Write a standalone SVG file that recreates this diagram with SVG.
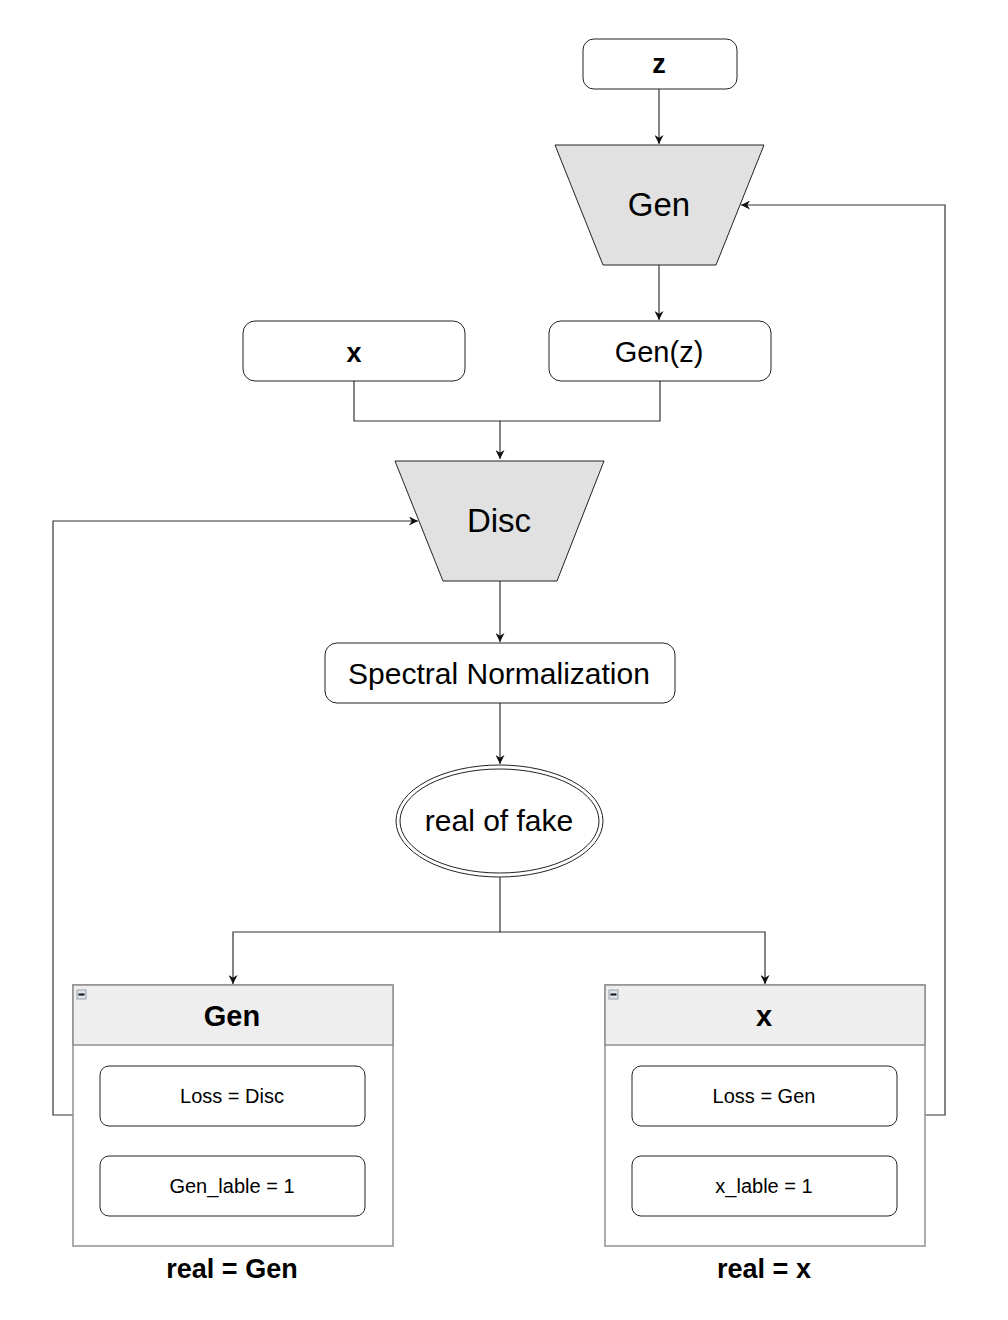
<svg xmlns="http://www.w3.org/2000/svg" width="1008" height="1320" viewBox="0 0 1008 1320">
<style>
text{font-family:"Liberation Sans",Arial,Helvetica,sans-serif;fill:#000;text-anchor:middle}
.box{fill:#fff;stroke:#222;stroke-width:1}
.trap{fill:#e1e1e1;stroke:#222;stroke-width:1}
.lane{fill:#fff;stroke:#909090;stroke-width:1.5}
.hdr{fill:#eeeeee;stroke:#909090;stroke-width:1.5}
.edge{fill:none;stroke:#333;stroke-width:1.2}
.b{font-weight:bold}
</style>
<defs>
<marker id="arr" viewBox="0 0 10 10" refX="10" refY="5" markerWidth="9" markerHeight="9" orient="auto" markerUnits="userSpaceOnUse">
<path d="M0,0 L10,5 L0,10 L3,5 z" fill="#111"/>
</marker>
</defs>
<rect width="1008" height="1320" fill="#fff"/>
<g id="connectors">
<path class="edge" d="M659,89 V144" marker-end="url(#arr)"/>
<path class="edge" d="M659,265 V320" marker-end="url(#arr)"/>
<path class="edge" d="M354,381 V421 H500 V459" marker-end="url(#arr)"/>
<path class="edge" d="M660,381 V421 H500"/>
<path class="edge" d="M500,581 V642" marker-end="url(#arr)"/>
<path class="edge" d="M500,703 V764" marker-end="url(#arr)"/>
<path class="edge" d="M500,877 V932 H233 V984" marker-end="url(#arr)"/>
<path class="edge" d="M500,932 H765 V984" marker-end="url(#arr)"/>
<path class="edge" d="M73,1115 H53 V521 H418" marker-end="url(#arr)"/>
<path class="edge" d="M925,1115 H945 V205 H741" marker-end="url(#arr)"/>
</g>
<g id="node-z">
<rect class="box" x="583" y="39" width="154" height="50" rx="11"/>
<text class="b" x="659" y="73" font-size="27">z</text>
</g>
<g id="node-gen">
<polygon class="trap" points="555,145 764,145 716,265 603,265"/>
<text x="659" y="216" font-size="33">Gen</text>
</g>
<g id="node-x">
<rect class="box" x="243" y="321" width="222" height="60" rx="12"/>
<text class="b" x="354" y="362" font-size="27">x</text>
</g>
<g id="node-genz">
<rect class="box" x="549" y="321" width="222" height="60" rx="12"/>
<text x="659" y="362" font-size="29">Gen(z)</text>
</g>
<g id="node-disc">
<polygon class="trap" points="395,461 604,461 557,581 443,581"/>
<text x="499" y="532" font-size="33">Disc</text>
</g>
<g id="node-spectral">
<rect class="box" x="325" y="643" width="350" height="60" rx="12"/>
<text x="499" y="684" font-size="30">Spectral Normalization</text>
</g>
<g id="node-realfake">
<ellipse cx="499.5" cy="821" rx="103.5" ry="56" fill="#fff" stroke="#222" stroke-width="1"/>
<ellipse cx="499.5" cy="821" rx="99.5" ry="52" fill="none" stroke="#222" stroke-width="1"/>
<text x="499" y="831" font-size="30">real of fake</text>
</g>
<g id="node-lane-gen">
<rect class="lane" x="73" y="985" width="320" height="261"/>
<rect class="hdr" x="73" y="985" width="320" height="60"/>
<rect x="77" y="990" width="9" height="9" fill="#dde3ea" stroke="#8a8f99" stroke-width="0.8"/>
<rect x="78.5" y="993.5" width="6" height="2" fill="#111"/>
<text class="b" x="232" y="1026" font-size="29">Gen</text>
<rect class="box" x="100" y="1066" width="265" height="60" rx="9"/>
<text x="232" y="1103" font-size="20">Loss = Disc</text>
<rect class="box" x="100" y="1156" width="265" height="60" rx="9"/>
<text x="232" y="1193" font-size="20">Gen_lable = 1</text>
</g>
<g id="node-lane-x">
<rect class="lane" x="605" y="985" width="320" height="261"/>
<rect class="hdr" x="605" y="985" width="320" height="60"/>
<rect x="609" y="990" width="9" height="9" fill="#dde3ea" stroke="#8a8f99" stroke-width="0.8"/>
<rect x="610.5" y="993.5" width="6" height="2" fill="#111"/>
<text class="b" x="764" y="1026" font-size="29">x</text>
<rect class="box" x="632" y="1066" width="265" height="60" rx="9"/>
<text x="764" y="1103" font-size="20">Loss = Gen</text>
<rect class="box" x="632" y="1156" width="265" height="60" rx="9"/>
<text x="764" y="1193" font-size="20">x_lable = 1</text>
</g>
<g id="label-real-gen">
<text class="b" x="232" y="1278" font-size="27">real = Gen</text>
</g>
<g id="label-real-x">
<text class="b" x="764" y="1278" font-size="27">real = x</text>
</g>
</svg>
